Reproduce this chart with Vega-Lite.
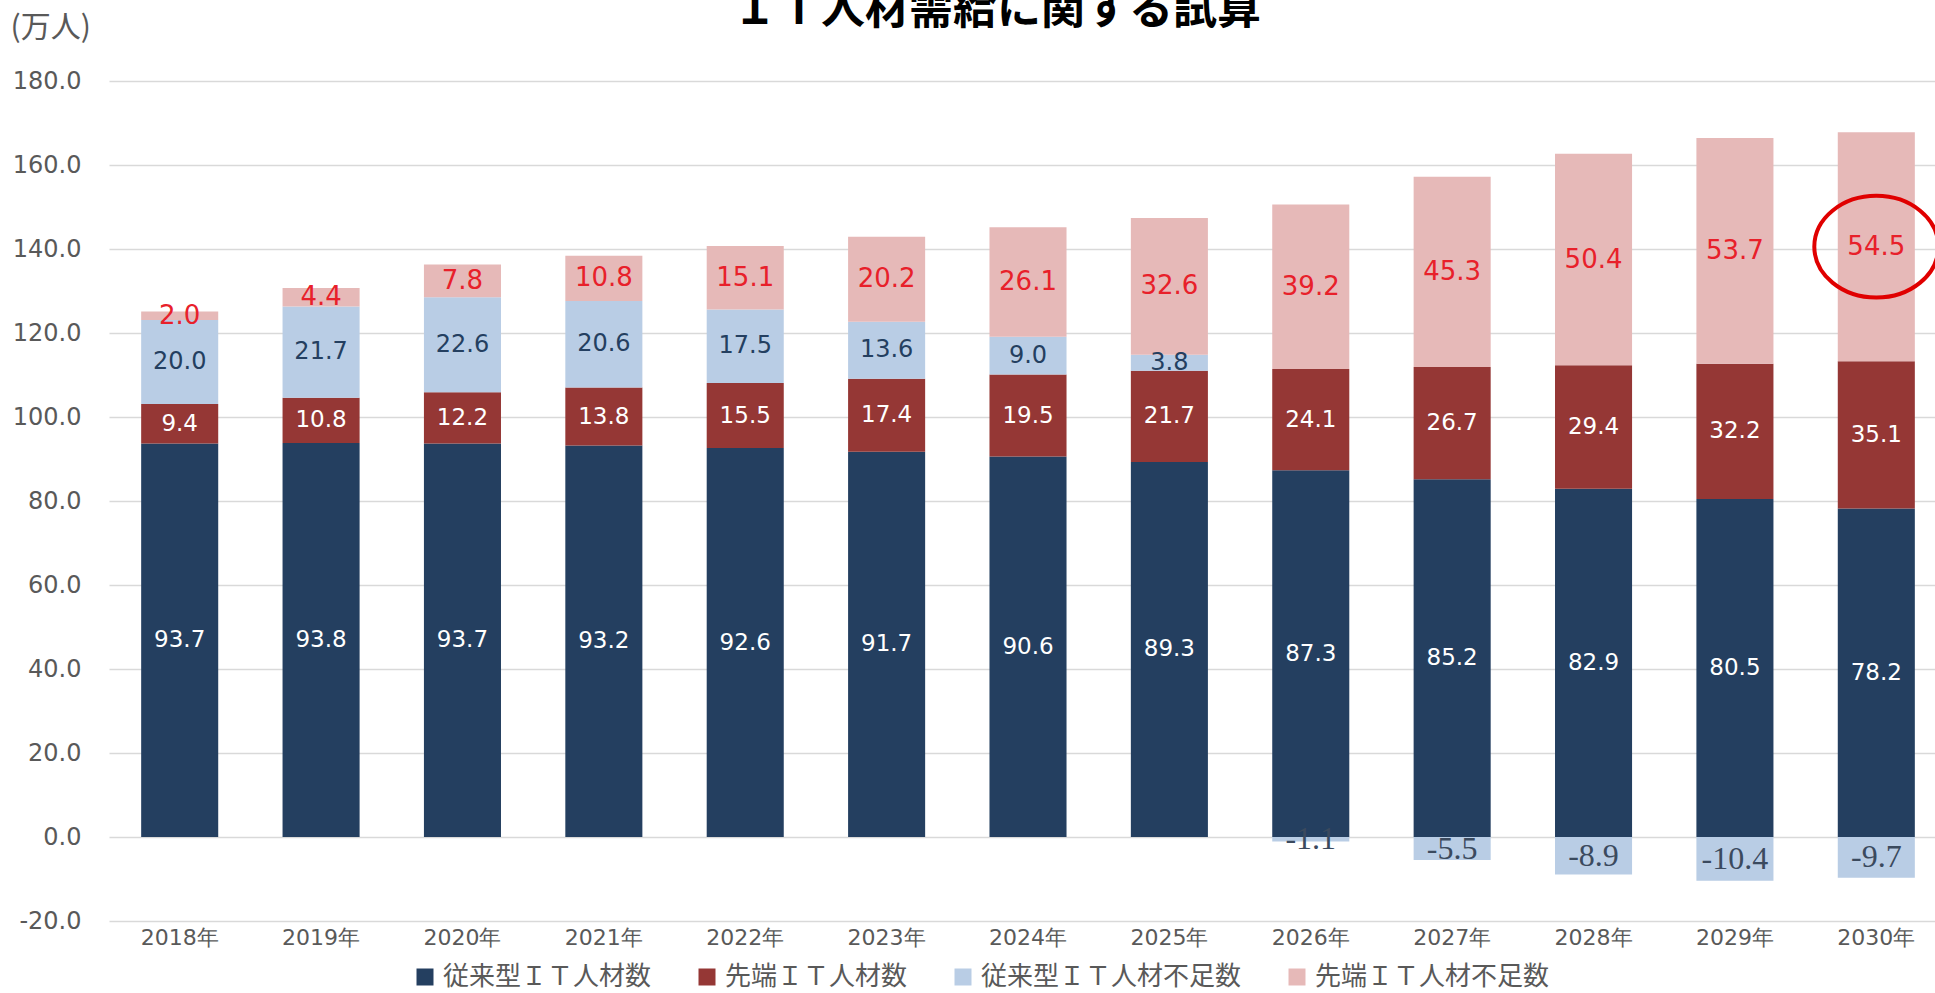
{
  "$schema": "https://vega.github.io/schema/vega-lite/v6.json",
  "autosize": {"type": "none"},
  "width": 1826,
  "height": 840,
  "padding": {"left": 109, "top": 81, "right": 0, "bottom": 72},
  "background": "white",
  "title": {
    "text": "ＩＴ人材需給に関する試算",
    "font": "Noto Sans CJK JP",
    "fontSize": 44,
    "fontWeight": "bold",
    "color": "#000000",
    "anchor": "middle",
    "dx": -25,
    "offset": -21
  },
  "config": {
    "view": {"stroke": null},
    "locale": {
      "number": {"decimal": ".", "thousands": ",", "grouping": [3], "currency": ["", ""], "minus": "-"}
    }
  },
  "data": {
    "values": [
      {"year": "2018年", "series": "従来型ＩＴ人材数", "k": 1, "value": 93.7},
      {"year": "2018年", "series": "先端ＩＴ人材数", "k": 2, "value": 9.4},
      {"year": "2018年", "series": "従来型ＩＴ人材不足数", "k": 3, "value": 20.0},
      {"year": "2018年", "series": "先端ＩＴ人材不足数", "k": 4, "value": 2.0},
      {"year": "2019年", "series": "従来型ＩＴ人材数", "k": 1, "value": 93.8},
      {"year": "2019年", "series": "先端ＩＴ人材数", "k": 2, "value": 10.8},
      {"year": "2019年", "series": "従来型ＩＴ人材不足数", "k": 3, "value": 21.7},
      {"year": "2019年", "series": "先端ＩＴ人材不足数", "k": 4, "value": 4.4},
      {"year": "2020年", "series": "従来型ＩＴ人材数", "k": 1, "value": 93.7},
      {"year": "2020年", "series": "先端ＩＴ人材数", "k": 2, "value": 12.2},
      {"year": "2020年", "series": "従来型ＩＴ人材不足数", "k": 3, "value": 22.6},
      {"year": "2020年", "series": "先端ＩＴ人材不足数", "k": 4, "value": 7.8},
      {"year": "2021年", "series": "従来型ＩＴ人材数", "k": 1, "value": 93.2},
      {"year": "2021年", "series": "先端ＩＴ人材数", "k": 2, "value": 13.8},
      {"year": "2021年", "series": "従来型ＩＴ人材不足数", "k": 3, "value": 20.6},
      {"year": "2021年", "series": "先端ＩＴ人材不足数", "k": 4, "value": 10.8},
      {"year": "2022年", "series": "従来型ＩＴ人材数", "k": 1, "value": 92.6},
      {"year": "2022年", "series": "先端ＩＴ人材数", "k": 2, "value": 15.5},
      {"year": "2022年", "series": "従来型ＩＴ人材不足数", "k": 3, "value": 17.5},
      {"year": "2022年", "series": "先端ＩＴ人材不足数", "k": 4, "value": 15.1},
      {"year": "2023年", "series": "従来型ＩＴ人材数", "k": 1, "value": 91.7},
      {"year": "2023年", "series": "先端ＩＴ人材数", "k": 2, "value": 17.4},
      {"year": "2023年", "series": "従来型ＩＴ人材不足数", "k": 3, "value": 13.6},
      {"year": "2023年", "series": "先端ＩＴ人材不足数", "k": 4, "value": 20.2},
      {"year": "2024年", "series": "従来型ＩＴ人材数", "k": 1, "value": 90.6},
      {"year": "2024年", "series": "先端ＩＴ人材数", "k": 2, "value": 19.5},
      {"year": "2024年", "series": "従来型ＩＴ人材不足数", "k": 3, "value": 9.0},
      {"year": "2024年", "series": "先端ＩＴ人材不足数", "k": 4, "value": 26.1},
      {"year": "2025年", "series": "従来型ＩＴ人材数", "k": 1, "value": 89.3},
      {"year": "2025年", "series": "先端ＩＴ人材数", "k": 2, "value": 21.7},
      {"year": "2025年", "series": "従来型ＩＴ人材不足数", "k": 3, "value": 3.8},
      {"year": "2025年", "series": "先端ＩＴ人材不足数", "k": 4, "value": 32.6},
      {"year": "2026年", "series": "従来型ＩＴ人材数", "k": 1, "value": 87.3},
      {"year": "2026年", "series": "先端ＩＴ人材数", "k": 2, "value": 24.1},
      {"year": "2026年", "series": "従来型ＩＴ人材不足数", "k": 3, "value": -1.1},
      {"year": "2026年", "series": "先端ＩＴ人材不足数", "k": 4, "value": 39.2},
      {"year": "2027年", "series": "従来型ＩＴ人材数", "k": 1, "value": 85.2},
      {"year": "2027年", "series": "先端ＩＴ人材数", "k": 2, "value": 26.7},
      {"year": "2027年", "series": "従来型ＩＴ人材不足数", "k": 3, "value": -5.5},
      {"year": "2027年", "series": "先端ＩＴ人材不足数", "k": 4, "value": 45.3},
      {"year": "2028年", "series": "従来型ＩＴ人材数", "k": 1, "value": 82.9},
      {"year": "2028年", "series": "先端ＩＴ人材数", "k": 2, "value": 29.4},
      {"year": "2028年", "series": "従来型ＩＴ人材不足数", "k": 3, "value": -8.9},
      {"year": "2028年", "series": "先端ＩＴ人材不足数", "k": 4, "value": 50.4},
      {"year": "2029年", "series": "従来型ＩＴ人材数", "k": 1, "value": 80.5},
      {"year": "2029年", "series": "先端ＩＴ人材数", "k": 2, "value": 32.2},
      {"year": "2029年", "series": "従来型ＩＴ人材不足数", "k": 3, "value": -10.4},
      {"year": "2029年", "series": "先端ＩＴ人材不足数", "k": 4, "value": 53.7},
      {"year": "2030年", "series": "従来型ＩＴ人材数", "k": 1, "value": 78.2},
      {"year": "2030年", "series": "先端ＩＴ人材数", "k": 2, "value": 35.1},
      {"year": "2030年", "series": "従来型ＩＴ人材不足数", "k": 3, "value": -9.7},
      {"year": "2030年", "series": "先端ＩＴ人材不足数", "k": 4, "value": 54.5}
    ]
  },
  "transform": [
    {"stack": "value", "groupby": ["year"], "sort": [{"field": "k", "order": "ascending"}], "as": ["y0", "y1"], "offset": "zero"},
    {"calculate": "(datum.y0 + datum.y1) / 2", "as": "ymid"}
  ],
  "encoding": {
    "x": {
      "field": "year",
      "type": "nominal",
      "sort": null,
      "scale": {"paddingInner": 0.455, "paddingOuter": 0.2275, "range": [0, 1838]},
      "axis": {
        "title": null,
        "labelAngle": 0,
        "labelFont": "DejaVu Sans",
        "labelFontSize": 22,
        "labelColor": "#595959",
        "labelPadding": 6,
        "ticks": false,
        "domain": false
      }
    }
  },
  "layer": [
    {
      "mark": {"type": "bar", "strokeWidth": 0},
      "encoding": {
        "y": {
          "field": "y0",
          "type": "quantitative",
          "scale": {"domain": [-20, 180], "nice": false, "zero": false},
          "axis": {
            "values": [-20, 0, 20, 40, 60, 80, 100, 120, 140, 160, 180],
            "format": ".1f",
            "title": "(万人)",
            "titleAngle": 0,
            "titleAlign": "left",
            "titleBaseline": "middle",
            "titleX": -99,
            "titleY": -54,
            "titleFont": "Noto Sans CJK JP",
            "titleFontSize": 30,
            "titleFontWeight": "normal",
            "titleColor": "#595959",
            "labelFont": "DejaVu Sans",
            "labelFontSize": 24,
            "labelColor": "#595959",
            "labelPadding": 28,
            "ticks": false,
            "domain": false,
            "grid": true,
            "gridColor": "#D9D9D9",
            "gridWidth": 1.5
          }
        },
        "y2": {"field": "y1"},
        "color": {
          "field": "series",
          "type": "nominal",
          "scale": {
            "domain": ["従来型ＩＴ人材数", "先端ＩＴ人材数", "従来型ＩＴ人材不足数", "先端ＩＴ人材不足数"],
            "range": ["#243F60", "#953735", "#B9CDE5", "#E6B9B8"]
          },
          "legend": {
            "title": null,
            "orient": "none",
            "direction": "horizontal",
            "legendX": 303,
            "legendY": 883,
            "symbolType": "square",
            "symbolSize": 289,
            "symbolStrokeWidth": 0,
            "labelFont": "Noto Sans CJK JP",
            "labelFontSize": 26,
            "labelColor": "#595959",
            "labelOffset": 5,
            "columnPadding": 42,
            "labelLimit": 400
          }
        }
      }
    },
    {
      "transform": [{"filter": "datum.k <= 2"}],
      "mark": {"type": "text", "font": "DejaVu Sans", "fontSize": 23, "color": "#FFFFFF", "align": "center", "baseline": "middle"},
      "encoding": {
        "y": {"field": "ymid", "type": "quantitative"},
        "text": {"field": "value", "type": "quantitative", "format": ".1f"}
      }
    },
    {
      "transform": [{"filter": "datum.k == 3 && datum.value > 0"}],
      "mark": {"type": "text", "font": "DejaVu Sans", "fontSize": 24, "color": "#243F60", "align": "center", "baseline": "middle"},
      "encoding": {
        "y": {"field": "ymid", "type": "quantitative"},
        "text": {"field": "value", "type": "quantitative", "format": ".1f"}
      }
    },
    {
      "transform": [{"filter": "datum.k == 3 && datum.value < 0"}],
      "mark": {"type": "text", "font": "Liberation Serif", "fontSize": 32, "color": "#3B4A5E", "align": "center", "baseline": "middle"},
      "encoding": {
        "y": {"field": "ymid", "type": "quantitative"},
        "text": {"field": "value", "type": "quantitative", "format": ".1f"}
      }
    },
    {
      "transform": [{"filter": "datum.k == 4"}],
      "mark": {"type": "text", "font": "DejaVu Sans", "fontSize": 26, "color": "#E8202A", "align": "center", "baseline": "middle"},
      "encoding": {
        "y": {"field": "ymid", "type": "quantitative"},
        "text": {"field": "value", "type": "quantitative", "format": ".1f"}
      }
    },
    {
      "transform": [{"filter": "datum.k == 4 && datum.year == '2030年'"}],
      "mark": {
        "type": "point",
        "shape": "M-1,0A1,0.82,0,1,0,1,0A1,0.82,0,1,0,-1,0Z",
        "size": 15376,
        "filled": false,
        "stroke": "#E00000",
        "strokeWidth": 4,
        "opacity": 1
      },
      "encoding": {
        "y": {"field": "ymid", "type": "quantitative"}
      }
    }
  ]
}
